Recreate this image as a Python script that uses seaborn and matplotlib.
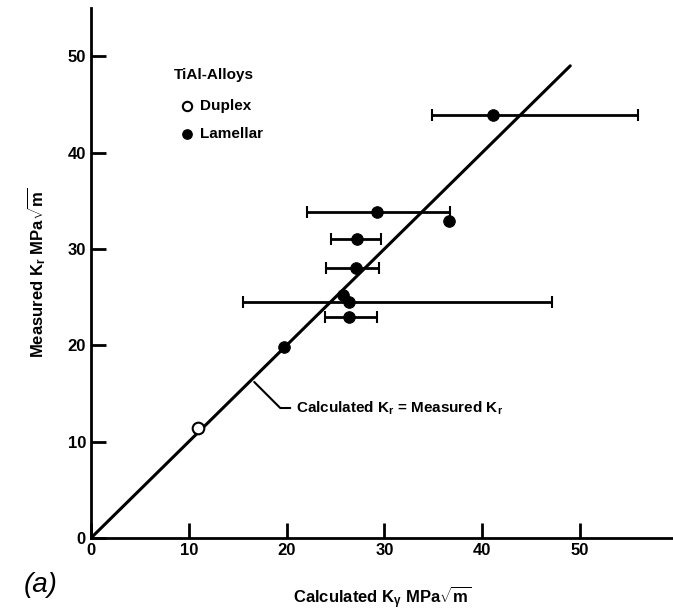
import numpy as np
import pandas as pd
import matplotlib
matplotlib.use("Agg")
import matplotlib.pyplot as plt
import seaborn as sns

# data
duplex_x = [10.9]
duplex_y = [11.4]
lam_x = [19.7, 26.4, 25.8, 26.4, 27.1, 27.2, 29.2, 36.6, 41.1]
lam_y = [19.8, 22.9, 25.2, 24.5, 28.0, 31.0, 33.8, 32.9, 43.9]
err_lo = [np.nan, 23.9, np.nan, 15.5, 24.0, 24.5, 22.1, np.nan, 34.9]
err_hi = [np.nan, 29.2, np.nan, 47.1, 29.4, 29.7, 36.7, np.nan, 55.9]
line_x = [0, 49]
line_y = [0, 49]
ticks = [0, 10, 20, 30, 40, 50]

sns.set_style("ticks")
plt.rcParams['font.family'] = ['Liberation Sans', 'DejaVu Sans']
plt.rcParams['mathtext.fontset'] = 'custom'
plt.rcParams['mathtext.rm'] = 'Liberation Sans:bold'
plt.rcParams['mathtext.it'] = 'Liberation Sans:bold'
plt.rcParams['mathtext.bf'] = 'Liberation Sans:bold'
for k in ['text.color', 'axes.labelcolor', 'xtick.color', 'ytick.color', 'axes.edgecolor']:
    plt.rcParams[k] = 'black'

fig = plt.figure(figsize=(6.73, 6.15), dpi=100)
ax = fig.add_axes([0.135, 0.125, 0.865, 0.862])

lam = pd.DataFrame({'x': lam_x, 'y': lam_y, 'lo': err_lo, 'hi': err_hi})
eb = lam.dropna()
ax.errorbar(eb['x'], eb['y'], xerr=[eb['x'] - eb['lo'], eb['hi'] - eb['x']],
            fmt='none', ecolor='black', elinewidth=2, capsize=4, capthick=1.5, zorder=2)

sns.lineplot(x=line_x, y=line_y, color='black', linewidth=2.2, ax=ax, zorder=3)
sns.scatterplot(x=lam_x, y=lam_y, color='black', edgecolor='black', s=70, ax=ax, zorder=4)
sns.scatterplot(x=duplex_x, y=duplex_y, facecolor='white', edgecolor='black',
                linewidth=1.5, s=70, ax=ax, zorder=4)

ax.set_xlim(0, 59.5)
ax.set_ylim(0, 55)
ax.set_xticks(ticks)
ax.set_yticks(ticks)
ax.tick_params(direction='in', length=11, width=2, labelsize=12)
for lbl in ax.get_xticklabels() + ax.get_yticklabels():
    lbl.set_fontweight('bold')
sns.despine(ax=ax)
ax.spines['left'].set_linewidth(2)
ax.spines['bottom'].set_linewidth(2)

ax.set_xlabel(r'Calculated K$_\gamma$ MPa$\sqrt{m}$', fontsize=12, fontweight='bold', labelpad=19)
ax.set_ylabel(r'Measured K$_r$ MPa$\sqrt{m}$', fontsize=12, fontweight='bold', labelpad=14)

# legend drawn as in the original
ax.text(8.5, 48.1, 'TiAl-Alloys', fontsize=11, fontweight='bold', va='center')
ax.scatter([9.8], [44.8], s=45, facecolor='white', edgecolor='black', linewidth=1.5)
ax.text(11.2, 44.8, 'Duplex', fontsize=11, fontweight='bold', va='center')
ax.scatter([9.8], [41.9], s=45, color='black')
ax.text(11.2, 41.9, 'Lamellar', fontsize=11, fontweight='bold', va='center')

ax.annotate(r'Calculated K$_r$ = Measured K$_r$', xy=(16.5, 16.4), xytext=(21.0, 13.5),
            fontsize=11, fontweight='bold', va='center',
            arrowprops=dict(arrowstyle='-', color='black', lw=1.5,
                            connectionstyle='angle,angleA=0,angleB=-45,rad=0'))

fig.text(0.035, 0.037, '(a)', fontsize=20, fontstyle='italic')

fig.savefig('out.png', dpi=100)
